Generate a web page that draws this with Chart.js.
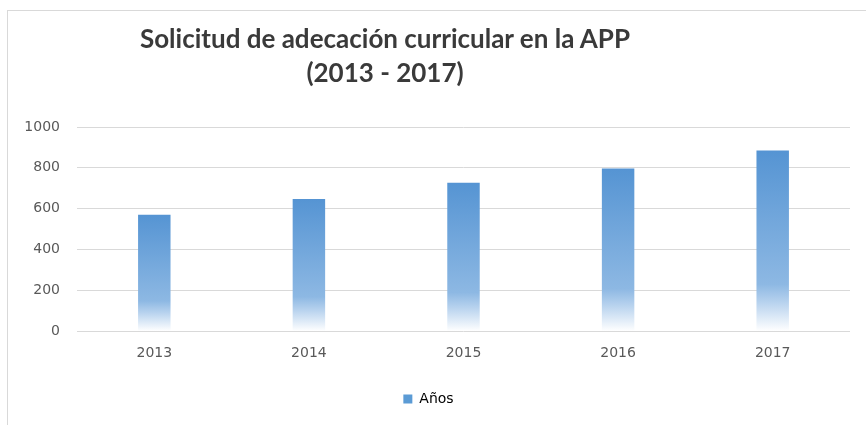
<!DOCTYPE html>
<html>
<head>
<meta charset="utf-8">
<script src="https://cdn.jsdelivr.net/npm/chart.js@4"></script>
<style>
  html, body { margin: 0; padding: 0; background: #fff; }
  #wrap { position: relative; width: 866px; height: 425px; overflow: hidden; }
  #frame { position: absolute; left: 7px; top: 10px; right: -2px; bottom: -2px; border-top: 1px solid #d9d9d9; border-left: 1px solid #d9d9d9; }
  #title { position: absolute; left: 85px; width: 600px; top: 21px; text-align: center;
           font-family: Lato, "Open Sans", sans-serif; font-weight: bold; font-size: 26px;
           line-height: 34px; color: #3a3a3a; }
  canvas { position: absolute; left: 0; top: 0; }
</style>
</head>
<body>
<div id="wrap">
  <div id="frame"></div>
  <canvas id="c" width="866" height="425"></canvas>
  <div id="title">Solicitud de adecación curricular en la APP<br>(2013 - 2017)</div>
</div>
<script>
const categories = ["2013", "2014", "2015", "2016", "2017"];
const seriesName = "Años";
const values = [570, 648, 727, 797, 885];
const yMin = 0, yMax = 1000, yStep = 200;

function barGradient(ctx) {
  const chart = ctx.chart;
  const area = chart.chartArea;
  if (!area) return '#5B9BD5';
  const ys = chart.scales.y;
  const v = ctx.raw;
  const top = ys.getPixelForValue(v);
  const bottom = ys.getPixelForValue(0);
  const g = chart.ctx.createLinearGradient(0, top, 0, bottom);
  g.addColorStop(0, '#5594D3');
  g.addColorStop(0.74, '#8DB8E3');
  g.addColorStop(0.84, '#B7D2EE');
  g.addColorStop(1, '#FFFFFF');
  return g;
}

const tickFont = { family: "'DejaVu Sans', sans-serif", size: 14 };

new Chart(document.getElementById('c'), {
  type: 'bar',
  data: {
    labels: categories,
    datasets: [{
      label: seriesName,
      data: values,
      backgroundColor: barGradient,
      borderWidth: 0,
      barPercentage: 0.42,
      categoryPercentage: 0.5
    }]
  },
  options: {
    responsive: false,
    animation: false,
    devicePixelRatio: 1,
    layout: { padding: { left: 7, right: 16, top: 127, bottom: 9 } },
    plugins: {
      title: { display: false },
      tooltip: { enabled: false },
      legend: {
        position: 'bottom',
        labels: {
          boxWidth: 9, boxHeight: 9, padding: 16,
          color: '#595959',
          font: tickFont,
          generateLabels: (chart) => [{
            text: seriesName, fillStyle: '#5B9BD5', strokeStyle: '#5B9BD5', lineWidth: 0,
            datasetIndex: 0, hidden: false
          }]
        }
      }
    },
    scales: {
      x: {
        grid: { display: false, drawTicks: false },
        border: { display: false },
        ticks: { color: '#595959', padding: 14, font: tickFont }
      },
      y: {
        min: yMin, max: yMax,
        afterFit: (s) => { s.width = 70; },
        grid: { color: '#d9d9d9', drawTicks: false },
        border: { display: false },
        ticks: { stepSize: yStep, color: '#595959', padding: 17,
                 callback: (v) => String(v),
                 font: tickFont }
      }
    }
  }
});
</script>
</body>
</html>
